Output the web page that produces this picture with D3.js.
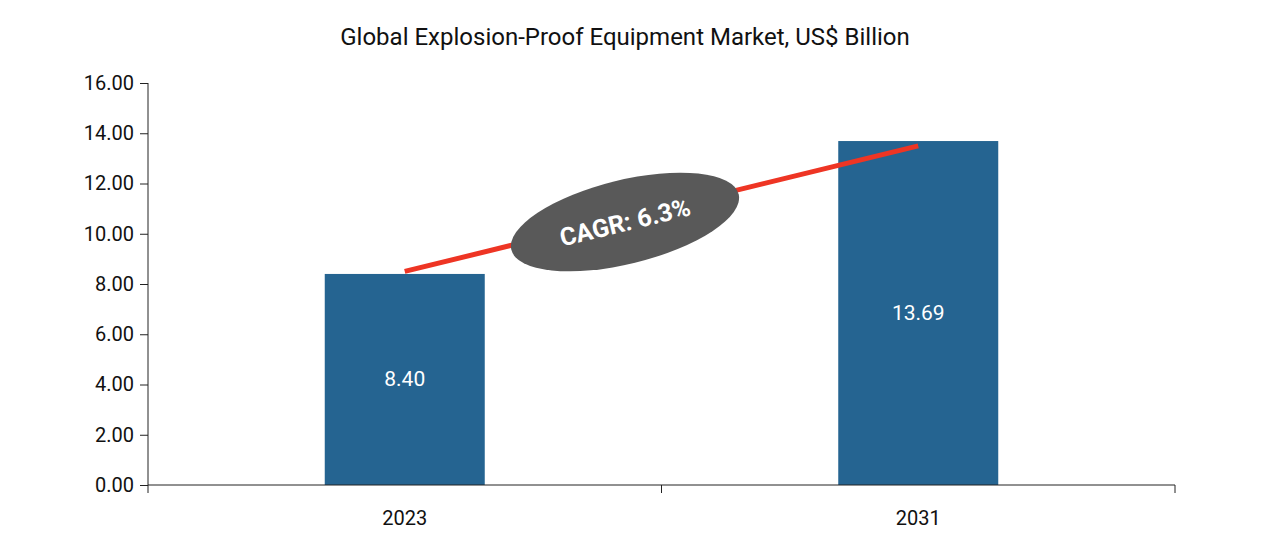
<!DOCTYPE html>
<html><head><meta charset="utf-8">
<script src="https://cdn.jsdelivr.net/npm/d3@7"></script>
<style>body{margin:0;background:#fff}</style></head>
<body><svg id="c" width="1280" height="550"></svg>
<script>
const categories=["2023","2031"];
const values=[8.40,13.69];
const yTicks=[0,2,4,6,8,10,12,14,16];
const cagrLabel="CAGR: 6.3%";
const lineStart=8.5, lineEnd=13.5;

const svg=d3.select("#c");
const font="Roboto, 'Open Sans', sans-serif";
const x=d3.scaleBand().domain(categories).range([148,1175]).paddingInner(0).paddingOuter(0);
const y=d3.scaleLinear().domain([0,16]).range([485,83]);
const bw=160;

svg.append("text").attr("x",625).attr("y",45).attr("text-anchor","middle")
 .attr("font-family",font).attr("font-size",24).attr("fill","#111").text("Global Explosion-Proof Equipment Market, US$ Billion");

// y axis
const ya=svg.append("g").attr("transform","translate(148,0)").call(d3.axisLeft(y).tickValues(yTicks).tickFormat(d3.format(".2f")).tickSize(8).tickPadding(6));
ya.selectAll("text").attr("font-family",font).attr("font-size",20).attr("fill","#111");
ya.selectAll("line,path").attr("stroke","#222");
ya.select("path").attr("d","M0,83V485");

// bars
svg.selectAll("rect.bar").data(categories).join("rect")
 .attr("x",d=>x(d)+x.bandwidth()/2-bw/2).attr("width",bw)
 .attr("y",(d,i)=>y(values[i])).attr("height",(d,i)=>y(0)-y(values[i]))
 .attr("fill","#256491");
svg.selectAll("text.val").data(categories).join("text")
 .attr("x",d=>x(d)+x.bandwidth()/2).attr("y",(d,i)=>y(values[i]/2)+7)
 .attr("text-anchor","middle").attr("font-family",font).attr("font-size",21).attr("fill","#fff")
 .text((d,i)=>values[i].toFixed(2));

// x axis
const xa=svg.append("g").attr("transform","translate(0,485)");
xa.append("line").attr("x1",148).attr("x2",1175).attr("stroke","#222");
[148,x(categories[1]),1175].forEach(v=>xa.append("line").attr("x1",v).attr("x2",v).attr("y1",0).attr("y2",8).attr("stroke","#222"));
categories.forEach(c=>xa.append("text").attr("x",x(c)+x.bandwidth()/2).attr("y",40).attr("text-anchor","middle")
 .attr("font-family",font).attr("font-size",20).attr("fill","#111").text(c));

// CAGR line
const x1=x(categories[0])+x.bandwidth()/2, x2=x(categories[1])+x.bandwidth()/2;
svg.append("line").attr("x1",x1).attr("y1",y(lineStart)).attr("x2",x2).attr("y2",y(lineEnd))
 .attr("stroke","#EE3524").attr("stroke-width",5);
const cx=625, cy=222;
const ang=Math.atan2(y(lineEnd)-y(lineStart),x2-x1)*180/Math.PI;
const g=svg.append("g").attr("transform",`translate(${cx},${cy}) rotate(${ang})`);
g.append("ellipse").attr("rx",117).attr("ry",42).attr("fill","#595959");
g.append("text").attr("y",9).attr("text-anchor","middle").attr("font-family",font).attr("font-weight","bold")
 .attr("font-size",25).attr("fill","#fff").text(cagrLabel);
</script></body></html>
